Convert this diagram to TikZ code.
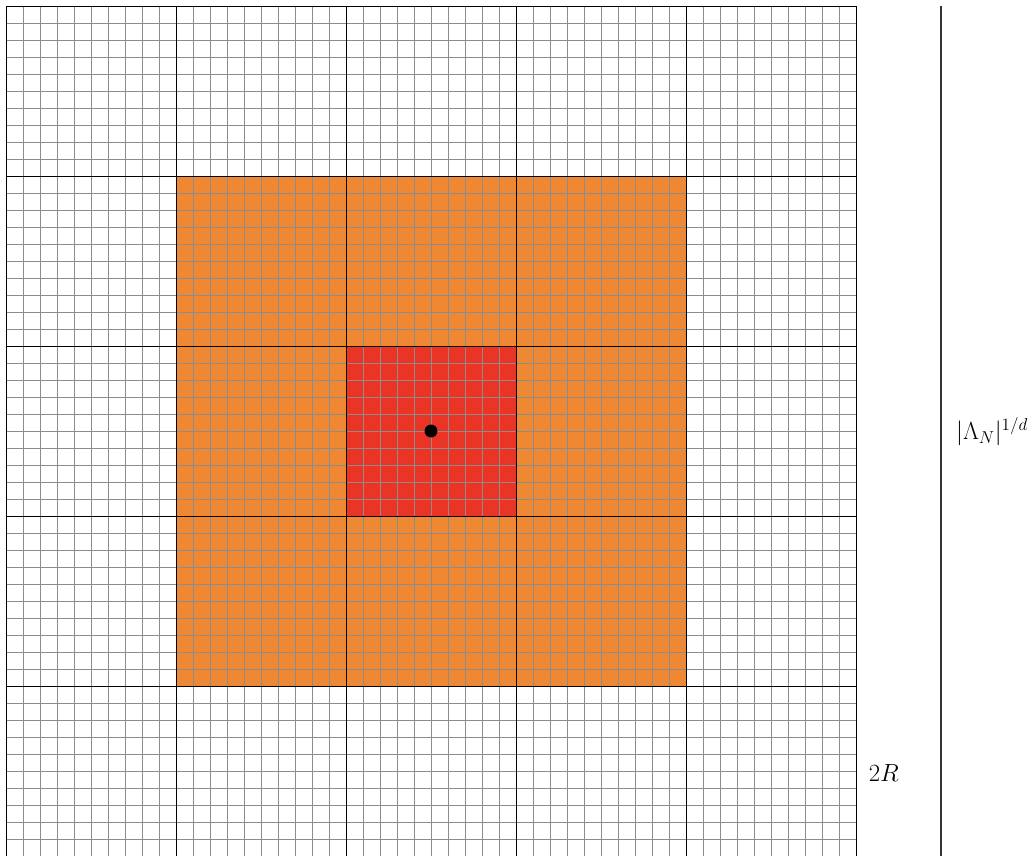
\documentclass[tikz,border=0pt]{standalone}
\definecolor{orangefill}{RGB}{238,136,51}
\definecolor{redfill}{RGB}{233,52,38}
\definecolor{fineline}{RGB}{140,140,140}
\begin{document}
\begin{tikzpicture}[x=1cm,y=1cm,
  fine/.style={fineline, line width=0.4pt},
  block/.style={black, line width=0.8pt},
  sepline/.style={black!80, line width=0.9pt},
  lab/.style={font=\fontsize{20}{24}\selectfont, inner sep=0pt}]
\useasboundingbox (-0.176,0.029) rectangle (30.176,25.176);
\fill[orangefill] (5,5) rectangle (20,20);
\fill[redfill] (10,10) rectangle (15,15);
\draw[fine, step=0.5] (0,0) grid (25,25);
\draw[block, step=5] (0,0) grid (25,25);
\fill (12.5,12.5) circle (0.19);
\coordinate (septop) at (27.5,25);
\coordinate (sepbot) at (27.5,-0.2);
\draw[sepline] (septop) -- (sepbot);
\node[lab] (tworlabel) at (25.82,2.44) {$2R$};
\node[lab] (lambdalabel) at (29.0,12.47) {$|\Lambda_N|^{1/d}$};
\end{tikzpicture}
\end{document}
